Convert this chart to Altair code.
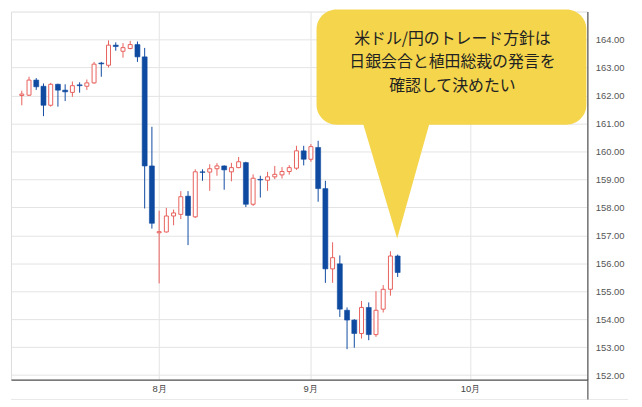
import altair as alt
import pandas as pd

# OHLC values (one trading day per candle)
opens = [162.00, 162.01, 162.55, 162.33, 161.65, 162.40, 162.19, 162.11, 162.38, 162.33,
         162.45, 163.16, 163.08, 163.80, 163.58, 163.68, 163.82, 163.38, 159.48, 157.09,
         157.12, 157.69, 157.75, 158.40, 157.66, 159.27, 159.26, 159.38, 159.48, 159.27,
         159.42, 159.60, 158.11, 159.00, 158.97, 159.09, 159.16, 159.28, 159.40, 160.02,
         159.72, 160.14, 158.67, 155.80, 155.98, 154.32, 153.97, 153.49, 154.42, 153.45,
         154.36, 155.07, 156.26]
highs = [162.17, 162.67, 162.62, 162.43, 162.45, 162.42, 162.40, 162.50, 162.47, 162.57,
         163.20, 163.20, 163.97, 163.90, 163.87, 163.95, 163.93, 163.70, 160.88, 157.88,
         157.98, 157.92, 158.58, 158.58, 159.36, 159.36, 159.54, 159.58, 159.50, 159.59,
         159.80, 159.63, 159.18, 159.13, 159.27, 159.48, 159.44, 159.51, 160.20, 160.20,
         160.26, 160.38, 158.95, 156.75, 156.28, 154.42, 154.00, 154.65, 154.60, 155.00,
         155.22, 156.43, 156.31]
lows = [161.65, 161.98, 162.20, 161.26, 161.60, 161.60, 161.80, 161.95, 162.10, 162.20,
        162.42, 162.67, 163.00, 163.60, 163.35, 163.65, 163.20, 157.96, 157.24, 155.28,
        157.10, 157.36, 157.58, 156.65, 157.62, 158.95, 158.59, 159.13, 158.63, 158.93,
        159.40, 158.01, 158.05, 158.35, 158.59, 159.01, 159.03, 159.17, 159.34, 159.50,
        159.63, 158.20, 155.30, 155.30, 154.08, 152.93, 152.98, 153.31, 153.25, 153.37,
        154.24, 154.84, 155.51]
closes = [162.05, 162.55, 162.31, 161.65, 162.40, 162.19, 162.13, 162.35, 162.35, 162.45,
          163.12, 163.13, 163.80, 163.75, 163.71, 163.82, 163.38, 159.48, 157.43, 157.13,
          157.69, 157.80, 158.38, 157.71, 159.27, 159.25, 159.38, 159.48, 159.34, 159.42,
          159.63, 158.11, 159.04, 158.98, 159.09, 159.18, 159.28, 159.42, 160.02, 159.72,
          160.17, 158.67, 155.80, 156.20, 154.36, 153.97, 153.49, 154.42, 153.45, 154.32,
          155.07, 156.26, 155.67]

month_labels = ["8月", "9月", "10月"]
month_pos = [19, 39.9, 62]          # candle index at which each month starts
y_ticks = [152, 153, 154, 155, 156, 157, 158, 159, 160, 161, 162, 163, 164]

callout_lines = ["米ドル/円のトレード方針は", "日銀会合と植田総裁の発言を", "確認して決めたい"]

UP = "#e8605c"
DOWN = "#0f4aa1"
YELLOW = "#F4D54C"

df = pd.DataFrame({
    "i": list(range(len(opens))),
    "open": opens, "high": highs, "low": lows, "close": closes,
})
df["dir"] = ["up" if c >= o else "down" for o, c in zip(opens, closes)]

label_expr = " : ".join(
    f"datum.value == {p} ? '{l}'" for p, l in zip(month_pos[:-1], month_labels[:-1])
) + f" : '{month_labels[-1]}'"

xscale = alt.Scale(domain=[-0.81, 77.56], nice=False, zero=False)
yscale = alt.Scale(domain=[151.84, 165.0], nice=False, zero=False)

x_axis = alt.Axis(values=month_pos, labelExpr=label_expr, grid=True, gridColor="#e4e4e4",
                  domainColor="#555555", domainWidth=1.3, ticks=False, labelPadding=4,
                  labelColor="#444444", labelFontSize=9.5, labelFont="Liberation Sans",
                  labelOverlap=False, title=None)
y_axis = alt.Axis(orient="right", values=y_ticks, format=".2f", grid=True, gridColor="#e4e4e4",
                  domainColor="#555555", domainWidth=1.2, ticks=False, labelPadding=8,
                  labelColor="#555555", labelFontSize=9.5, labelFont="Liberation Sans",
                  labelOverlap=False, tickCount=13, title=None)

X = alt.X("i:Q", scale=xscale, axis=x_axis)

base = alt.Chart(df)

wicks = base.mark_rule(strokeWidth=1).encode(
    x=X,
    y=alt.Y("low:Q", scale=yscale, axis=y_axis),
    y2="high:Q",
    color=alt.Color("dir:N", scale=alt.Scale(domain=["up", "down"], range=[UP, DOWN]), legend=None),
)

up_bodies = base.transform_filter(alt.datum.dir == "up").mark_bar(
    width=4, fill="white", stroke=UP, strokeWidth=1
).encode(x=X, y=alt.Y("open:Q", scale=yscale, axis=y_axis), y2="close:Q")

down_bodies = base.transform_filter(alt.datum.dir == "down").mark_bar(
    width=5, fill=DOWN, stroke=DOWN, strokeWidth=0.6
).encode(x=X, y=alt.Y("open:Q", scale=yscale, axis=y_axis), y2="close:Q")

one = pd.DataFrame({"k": [0]})

bottom_rule = alt.Chart(one).mark_rule(color="#e8e8e8", strokeWidth=1).encode(
    x=alt.value(0), x2=alt.value(622), y=alt.value(391))
axis_ext = alt.Chart(one).mark_rule(color="#555555", strokeWidth=1.2).encode(
    x=alt.value(581.5), y=alt.value(371), y2=alt.value(391))

bubble = alt.Chart(one).mark_rect(cornerRadius=20, color=YELLOW, opacity=1).encode(
    x=alt.value(308), x2=alt.value(580), y=alt.value(-2), y2=alt.value(114))

pointer = alt.Chart(one).mark_point(
    shape="M -0.577 -1 L 0.577 -1 L 0.016 1 Z", size=14811, filled=True,
    fill=YELLOW, color=YELLOW, opacity=1, strokeWidth=0
).encode(x=alt.value(388.3), y=alt.value(167.85))

text = alt.Chart(one).mark_text(
    text=callout_lines, font="Noto Sans CJK JP", fontSize=16, lineHeight=23.7,
    align="center", baseline="middle", color="#222222"
).encode(x=alt.value(445), y=alt.value(27.5))

chart = alt.layer(
    wicks, up_bodies, down_bodies, bottom_rule, axis_ext, pointer, bubble, text
).properties(
    width=581, height=371,
    padding={"left": 2, "top": 0, "right": 5, "bottom": 5},
).configure_view(strokeWidth=0).configure(background="white")

chart.save("out.html", embed_options={"renderer": "svg", "actions": False})
